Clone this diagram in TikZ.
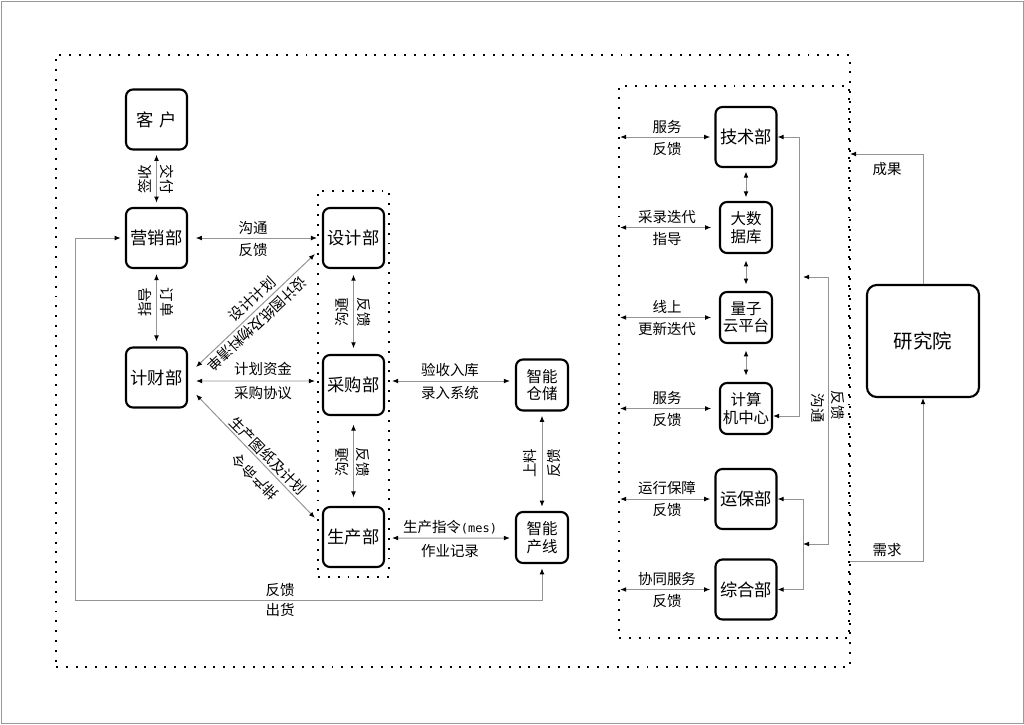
\documentclass[tikz,border=0pt]{standalone}
\usepackage{fontspec}
\setmainfont{Noto Sans CJK SC}
\newfontfamily\monofont{DejaVu Sans Mono}
\usetikzlibrary{arrows.meta}

\tikzset{
  box/.style={draw, line width=1.5pt, rounded corners=5pt, minimum width=1.525cm, minimum height=1.5cm, inner sep=0pt, font=\fontsize{12.3}{14}\selectfont},
  smallbox/.style={box, minimum width=1.3cm, minimum height=1.275cm, align=center, font=\fontsize{11}{12.5}\selectfont},
  lab/.style={inner sep=0pt, font=\fontsize{10.3}{12}\selectfont},
  conn/.style={draw=black!42, line width=0.7pt, >={Latex[color=black,length=4.3pt,width=3.4pt]}, <->},
  spare/.style={shorten <=#1, shorten >=#1},
  dotframe/.style={draw, line width=1.4pt, dash pattern=on 1.4pt off 5.6pt, inner sep=0pt},
}

\begin{document}
\begin{tikzpicture}[x=0.025cm, y=-0.025cm]
\useasboundingbox (0,0) rectangle (1024,724);
\draw [black!40, line width=0.6pt] (1,1) rectangle (1023,723);

\node [dotframe, minimum width=19.85cm, minimum height=15.3cm] (outer) at (453,361) {};
\node [dotframe, minimum width=1.775cm, minimum height=9.65cm] (midframe) at (353.5,384) {};
\node [dotframe, minimum width=5.75cm, minimum height=13.8cm] (rframe) at (734,362) {};

% left part
\node [box] (kehu) at (156.5,119.5) {客\hspace{4pt}户};
\node [box] (yingxiao) at (156.5,238) {营销部};
\node [box] (caiwu) at (156.5,377.5) {计财部};
\node [box] (sheji) at (353.5,238) {设计部};
\node [box] (caigou) at (353.5,385) {采购部};
\node [box] (shengchan) at (353.5,537) {生产部};
\node [smallbox] (cangchu) at (542,385) {智能\\仓储};
\node [smallbox] (chanxian) at (542,537.5) {智能\\产线};

\draw [conn, spare=3pt] (kehu) -- (yingxiao);
\node [lab, rotate=90] (qs) at (145,179) {签收};
\node [lab, rotate=-90] (jf) at (167,179) {交付};

\draw [conn, spare=3.5pt] (yingxiao) -- (caiwu);
\node [lab, rotate=90] (zd) at (145,302) {指导};
\node [lab, rotate=-90] (dd) at (167,302) {订单};

\draw [conn, shorten <=5.5pt] (yingxiao.east) -- (midframe.west |- sheji);
\node [lab] (gt1) at (253,228) {沟通};
\node [lab] (fk1) at (253,250) {反馈};

\coordinate (loopc) at (75,600);
\draw [conn, spare=3pt] (yingxiao.west) -| (loopc) -| (chanxian.south);
\node [lab] (fk2) at (280,590) {反馈};
\node [lab] (ch) at (280,610) {出货};

\draw [conn] ([shift={(8,-10.5)}]caiwu.east) -- ([shift={(-7,16)}]sheji.west);
\node [lab, rotate=43] (sjjh) at (252,299) {设计计划};
\node [lab, rotate=-137] (sjtz) at (257,324) {设计图纸及物料清单};

\draw [conn] ([shift={(8,3.5)}]caiwu.east) -- ([shift={(-7,-4)}]caigou.west);
\node [lab] (jhzj) at (263,369) {计划资金};
\node [lab] (cgxy) at (263,393) {采购协议};

\draw [conn] ([shift={(8,17)}]caiwu.east) -- ([shift={(-7,-19)}]shengchan.west);
\node [lab, rotate=-45.6] (sctz) at (268,456) {生产图纸及计划};
\node [lab, rotate=134.4] (pcml) at (255,477) {排产命令};

\draw [conn, spare=4pt] (sheji) -- (caigou);
\node [lab, rotate=90] (gt2) at (342,312) {沟通};
\node [lab, rotate=-90] (fk3) at (364,312) {反馈};

\draw [conn, spare=6pt] (caigou) -- (shengchan);
\node [lab, rotate=90] (gt3) at (342,462) {沟通};
\node [lab, rotate=-90] (fk4) at (363,462) {反馈};

\draw [conn] ([shift={(7,-4)}]caigou.east) -- ([shift={(-5,-4)}]cangchu.west);
\node [lab] (ysrk) at (450,370) {验收入库};
\node [lab] (lrxt) at (450,393) {录入系统};

\draw [conn] ([shift={(7,1)}]shengchan.east) -- ([shift={(-5,0.5)}]chanxian.west);
\node [lab] (sczl) at (450,527) {生产指令{\monofont\fontsize{8.5}{10}\selectfont(mes)}};
\node [lab] (zyjl) at (450,551) {作业记录};

\draw [conn, spare=3pt] (cangchu) -- (chanxian);
\node [lab, rotate=90] (sl) at (530,463) {上料};
\node [lab, rotate=90] (fk5) at (554,463) {反馈};

% right part
\node [box] (jishu) at (746,137) {技术部};
\node [smallbox] (dashuju) at (746,227.5) {大数\\据库};
\node [smallbox] (liangzi) at (746,317.5) {量子\\云平台};
\node [smallbox] (jisuan) at (746,408.5) {计算\\机中心};
\node [box] (yunbao) at (746,499) {运保部};
\node [box] (zonghe) at (746,589.5) {综合部};
\node [box, minimum width=2.8cm, minimum height=2.8cm, rounded corners=7pt, font=\fontsize{13.8}{16}\selectfont] (yanjiu) at (923,341) {研究院};

\draw [conn, shorten <=1.5pt, shorten >=3pt] (rframe.west |- jishu) -- (jishu.west);
\node [lab] (fw1) at (667,127) {服务};
\node [lab] (fk6) at (667,149) {反馈};
\draw [conn, shorten <=1.5pt, shorten >=5.5pt] (rframe.west |- dashuju) -- (dashuju.west);
\node [lab] (cldd) at (667,217) {采录迭代};
\node [lab] (zd2) at (667,239) {指导};
\draw [conn, shorten <=1.5pt, shorten >=5.5pt] (rframe.west |- liangzi) -- (liangzi.west);
\node [lab] (xs) at (667,307) {线上};
\node [lab] (gxdd) at (667,329) {更新迭代};
\draw [conn, shorten <=1.5pt, shorten >=5.5pt] (rframe.west |- jisuan) -- (jisuan.west);
\node [lab] (fw2) at (667,398) {服务};
\node [lab] (fk7) at (667,420) {反馈};
\draw [conn, shorten <=1.5pt, shorten >=3pt] (rframe.west |- yunbao) -- (yunbao.west);
\node [lab] (yxbz) at (667,488) {运行保障};
\node [lab] (fk8) at (667,510) {反馈};
\draw [conn, shorten <=1.5pt, shorten >=3pt] (rframe.west |- zonghe) -- (zonghe.west);
\node [lab] (xtfw) at (667,579) {协同服务};
\node [lab] (fk9) at (667,601) {反馈};

\draw [conn, spare=2.5pt] (jishu) -- (dashuju);
\draw [conn, spare=4.5pt] (dashuju) -- (liangzi);
\draw [conn, spare=4.5pt] (liangzi) -- (jisuan);

\draw [conn] (jishu.east) -| ([shift={(26,7.5)}]jisuan.east) -- ([shift={(0,7.5)}]jisuan.east);
\draw [conn] (yunbao.east) -| ([shift={(26,0)}]zonghe.east) -- (zonghe.east);
\coordinate (bk1) at (803,277);
\coordinate (bk2) at (803,544);
\draw [conn] (bk1) -- (828,277) -- (828,544) -- (bk2);
\node [lab, rotate=-90] (gt4) at (818,408) {沟通};
\node [lab, rotate=-90] (fk10) at (838,405) {反馈};

\coordinate (chengguo) at (850,154);
\coordinate (xuqiu) at (850,561);
\draw [conn, ->] (yanjiu.north) |- (chengguo);
\draw [conn, ->] (xuqiu) -| (yanjiu.south);
\node [lab] (cg) at (887,169) {成果};
\node [lab] (xq) at (887,550) {需求};
\end{tikzpicture}
\end{document}
